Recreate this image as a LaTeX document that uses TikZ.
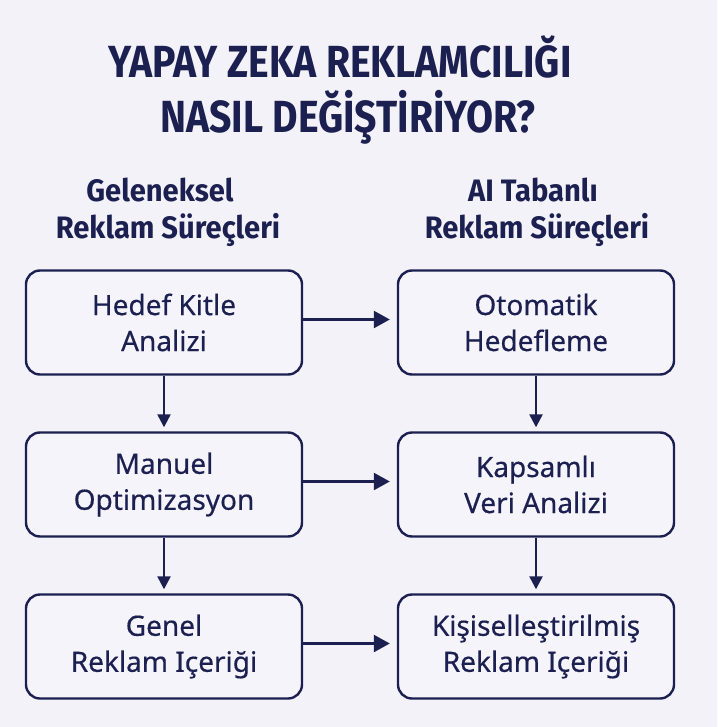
\documentclass[tikz,border=0pt]{standalone}
\usepackage{fontspec}
\setmainfont{Noto Sans}
\newfontfamily\boxfont[FakeBold=0.4]{Noto Sans}
\newfontfamily\titlefont[FakeStretch=0.87]{Fira Sans}
\newfontfamily\headfont[FakeStretch=0.94]{Fira Sans}
\usetikzlibrary{arrows.meta}
\definecolor{navy}{HTML}{1C2050}
\definecolor{bg}{HTML}{F3F2F9}
\definecolor{boxfill}{HTML}{F5F4FB}
\tikzset{
  box/.style={draw=navy, line width=2.4pt, fill=boxfill, rounded corners=14pt,
    minimum width=276pt, minimum height=104pt, align=center, text=navy,
    inner sep=0pt, font=\boxfont\fontsize{28}{36}\selectfont},
  titletext/.style={text=navy, inner sep=0pt, anchor=base,
    font=\titlefont\bfseries\fontsize{45}{52}\selectfont},
  headtext/.style={text=navy, inner sep=0pt, anchor=base, align=center,
    font=\headfont\bfseries\fontsize{31}{36}\selectfont},
  harrow/.style={draw=navy, line width=2.4pt, -{Triangle[length=16pt,width=17pt]}, shorten >=7pt},
  varrow/.style={draw=navy, line width=2.4pt, -{Triangle[length=13pt,width=13pt]}, shorten >=4pt}
}
\begin{document}
\begin{tikzpicture}[x=1pt,y=-1pt]
  \fill[bg] (0,0) rectangle (717,727);
  \useasboundingbox (0,0) rectangle (717,727);
  % title
  \node[titletext] (t1) at (340,78) {YAPAY ZEKA REKLAMCILIĞI};
  \node[titletext] (t2) at (348,133) {NASIL DEĞİŞTİRİYOR?};
  % headers
  \node[headtext] (h1) at (160,202) {Geleneksel};
  \node[headtext] (h2) at (168,238) {Reklam Süreçleri};
  \node[headtext] (h3) at (533,202) {AI Tabanlı};
  \node[headtext] (h4) at (537,238) {Reklam Süreçleri};
  % boxes
  \node[box] (l1) at (164,322.5) {Hedef Kitle\\Analizi};
  \node[box] (l2) at (164,484.5) {Manuel\\Optimizasyon};
  \node[box] (l3) at (164,646.5) {Genel\\Reklam Içeriği};
  \node[box] (r1) at (536,322.5) {Otomatik\\Hedefleme};
  \node[box] (r2) at (536,484.5) {Kapsamlı\\Veri Analizi};
  \node[box] (r3) at (536,646.5) {Kişiselleştirilmiş\\Reklam Içeriği};
  % arrows
  \draw[harrow] ([yshift=3pt]l1.east) -- ([yshift=3pt]r1.west);
  \draw[harrow] ([yshift=3pt]l2.east) -- ([yshift=3pt]r2.west);
  \draw[harrow] ([yshift=3pt]l3.east) -- ([yshift=3pt]r3.west);
  \draw[varrow] (l1.south) -- (l2.north);
  \draw[varrow] (l2.south) -- (l3.north);
  \draw[varrow] (r1.south) -- (r2.north);
  \draw[varrow] (r2.south) -- (r3.north);
\end{tikzpicture}
\end{document}
